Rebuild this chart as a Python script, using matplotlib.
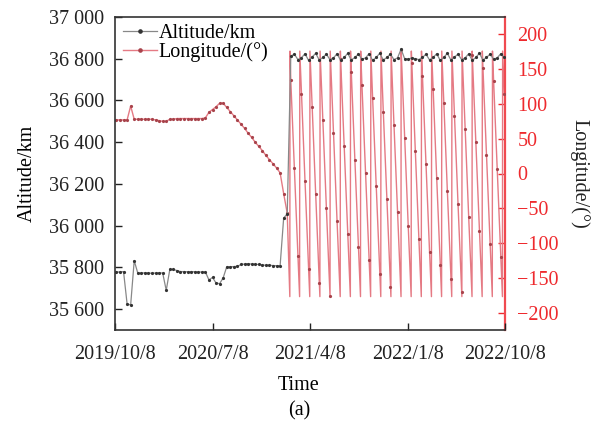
import numpy as np
import pandas as pd
import matplotlib
matplotlib.use("Agg")
import matplotlib.pyplot as plt
import matplotlib.dates as mdates
from matplotlib.lines import Line2D
from matplotlib.ticker import FuncFormatter, FixedLocator

plt.rcParams['font.family'] = ['Liberation Serif', 'DejaVu Serif']
plt.rcParams['axes.unicode_minus'] = True

# ---------------- data ----------------
axis_start = "2019-10-08"
axis_end = "2022-10-08"
sample_start = "2019-10-12"      # first sample, one every 10 days
sample_step = "10D"

altitude_km = [
    35778, 35778, 35780, 35625, 35620, 35832, 35773, 35773, 35774, 35773,
    35772, 35773, 35774, 35773, 35690, 35790, 35790, 35785, 35780, 35780,
    35779, 35780, 35779, 35778, 35778, 35778, 35740, 35752, 35725, 35722,
    35750, 35803, 35803, 35804, 35805, 35814, 35816, 35818, 35816, 35815,
    35814, 35812, 35810, 35810, 35809, 35808, 35808, 36037, 36056,
    36812, 36822, 36796, 36805, 36824, 36792, 36808, 36826, 36794, 36806,
    36822, 36796, 36804, 36824, 36792, 36806, 36826, 36794, 36806, 36822,
    36798, 36804, 36824, 36792, 36806, 36826, 36794, 36806, 36822, 36796,
    36804, 36846, 36800, 36798, 36804, 36800, 36796, 36806, 36822, 36794,
    36806, 36824, 36792, 36806, 36826, 36794, 36808, 36822, 36796, 36804,
    36824, 36792, 36806, 36826, 36794, 36806, 36822, 36798, 36804, 36824,
    36806,
]

longitude_deg = [
    77, 77, 77, 77, 97, 78, 78, 78, 78, 78,
    78, 77, 76, 75, 75, 78, 78, 79, 79, 79,
    79, 79, 79, 79, 79, 80, 88, 92, 96, 101,
    101, 95, 89, 83, 77, 71, 65, 58, 52, 45,
    39, 33, 26, 20, 14, 8, 1, -29, -57,
    134, 8, -119, 115, -11, -138, 96, -30, -157, 77,
    -49, -176, 58, -68, 165, 39, -87, 146, 20, -106,
    127, 1, -125, 108, -18, -144, 89, -37, -163, 70,
    -56, 178, 51, -75, 159, 32, -94, 140, 13, -113,
    121, -6, -132, 102, -25, -151, 83, -44, -170, 64,
    -63, 171, 45, -82, 152, 26, -101, 133, 7, -120,
    114,
]

# days after axis_start at which the drifting longitude wraps from -180 to +180
wrap_days = [491.3, 518.8, 547.3, 575.8, 604.3, 632.9, 661.4, 689.9, 718.4,
             746.9, 775.4, 803.8, 832.3, 860.8, 889.3, 917.8, 946.3, 974.8,
             1003.3, 1031.8, 1060.3, 1088.8]
wrap_low = -177
wrap_high = 176

x_tick_dates = ["2019-10-08", "2020-07-08", "2021-04-08", "2022-01-08", "2022-10-08"]
x_tick_labels = ["2019/10/8", "2020/7/8", "2021/4/8", "2022/1/8", "2022/10/8"]
alt_ticks = [35600, 35800, 36000, 36200, 36400, 36600, 36800, 37000]
lon_ticks = [-200, -150, -100, -50, 0, 50, 100, 150, 200]

# ---------------- build series ----------------
sample_dates = pd.date_range(sample_start, periods=len(altitude_km), freq=sample_step)
t0 = pd.Timestamp(axis_start)
wrap_times = [t0 + pd.Timedelta(days=d) for d in wrap_days]

line_t = list(sample_dates)
line_v = list(longitude_deg)
for wt in wrap_times:
    line_t += [wt, wt + pd.Timedelta(hours=12)]
    line_v += [wrap_low, wrap_high]
order = np.argsort(np.array(line_t, dtype="datetime64[ns]"))
line_t = [line_t[k] for k in order]
line_v = [line_v[k] for k in order]

# ---------------- figure ----------------
fig = plt.figure(figsize=(6.1, 4.32), dpi=100)
ax = fig.add_axes([115/610, 1-330/432, 390/610, 313/432])
ax2 = ax.twinx()
ax.set_zorder(ax2.get_zorder() + 1)
ax.patch.set_visible(False)

red_line = '#e57a84'
red_mark = '#a8434b'
gray_line = '#888888'
dark_mark = '#333333'

ax2.plot(line_t, line_v, color=red_line, lw=1.0, zorder=2)
ax2.plot(sample_dates, longitude_deg, ls='none', marker='o', ms=2.3,
         color=red_mark, mew=0, zorder=3)

ax.plot(sample_dates, altitude_km, color=gray_line, lw=0.9, marker='o', ms=2.3,
        mfc=dark_mark, mec=dark_mark, mew=0)

ax.set_xlim(pd.Timestamp(axis_start), pd.Timestamp(axis_end))
ax.set_ylim(35500, 37000)
ax2.set_ylim(-225, 225)

ax.xaxis.set_major_locator(FixedLocator(mdates.date2num(pd.to_datetime(x_tick_dates))))
ax.set_xticklabels(x_tick_labels)
ax.yaxis.set_major_locator(FixedLocator(alt_ticks))
ax.yaxis.set_major_formatter(FuncFormatter(lambda v, p: f"{int(v):,}".replace(",", " ")))
ax2.yaxis.set_major_locator(FixedLocator(lon_ticks))

fs = 14.5
red = '#ee2a2e'
ax.tick_params(axis='both', direction='in', length=5, width=1.0, labelsize=fs,
               colors='#222222', labelcolor='#222222')
ax.tick_params(axis='y', pad=8)
ax.tick_params(axis='x', pad=11)
ax2.tick_params(axis='y', direction='in', length=5, width=1.0, labelsize=fs,
                colors=red, labelcolor=red, pad=9)

for side in ['left', 'bottom', 'top']:
    ax.spines[side].set_color('#333333')
    ax.spines[side].set_linewidth(1.2)
ax.spines['right'].set_visible(False)
ax2.spines['right'].set_color('#f04a50')
ax2.spines['right'].set_linewidth(1.6)
for side in ['left', 'bottom', 'top']:
    ax2.spines[side].set_visible(False)

ax.set_ylabel("Altitude/km", fontsize=fs)
ax.yaxis.set_label_coords(-0.2, 0.5)
ax2.set_ylabel("Longitude/(°)", fontsize=fs, rotation=270, color='#222222')
ax2.yaxis.set_label_coords(1.215, 0.5)

fig.text(0.49, 1-386/432, "Time", ha='center', va='center', fontsize=fs)
fig.text(0.49, 1-411/432, "(a)", ha='center', va='center', fontsize=fs)

handles = [
    Line2D([], [], color=gray_line, lw=0.9, marker='o', ms=2.3, mfc=dark_mark, mec=dark_mark),
    Line2D([], [], color=red_line, lw=1.0, marker='o', ms=2.3, mfc=red_mark, mec=red_mark),
]
leg = ax.legend(handles, ["Altitude/km", "Longitude/(°)"], loc='upper left',
                bbox_to_anchor=(0.0, 1.005), frameon=False, fontsize=fs,
                handlelength=1.7, handletextpad=0.05, labelspacing=0.0,
                borderaxespad=0.2, borderpad=0.2)

fig.savefig("out.png", dpi=100)
